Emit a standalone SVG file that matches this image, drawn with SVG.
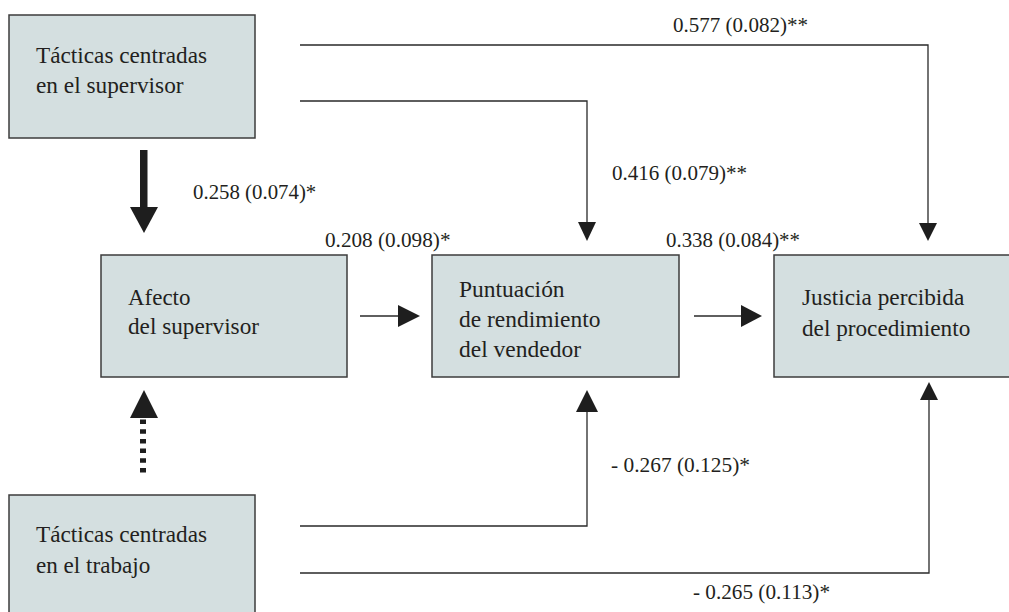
<svg xmlns="http://www.w3.org/2000/svg" width="1009" height="612" viewBox="0 0 1009 612">
<style>
.box{fill:#d4dfe0;stroke:#3c3c3c;stroke-width:1.5}
.nt{font-family:'Liberation Serif','Tinos','DejaVu Serif','Noto Serif',serif;font-size:23.3px;fill:#231f20}
.lb{font-family:'Liberation Serif','Tinos','DejaVu Serif','Noto Serif',serif;font-size:21px;fill:#231f20}
.ln{fill:none;stroke:#2a2a2a;stroke-width:1.3}
.hd{fill:#1e1e1e}
</style>
<rect width="1009" height="612" fill="#ffffff"/>
<g id="n1">
<rect class="box" x="9" y="15" width="246" height="123"/>
<text class="nt" x="36" y="63" textLength="171" lengthAdjust="spacingAndGlyphs">Tácticas centradas</text>
<text class="nt" x="36" y="93" textLength="147.6" lengthAdjust="spacingAndGlyphs">en el supervisor</text>
</g>
<g id="n2">
<rect class="box" x="101" y="255" width="246" height="122"/>
<text class="nt" x="128" y="305" textLength="62.4" lengthAdjust="spacingAndGlyphs">Afecto</text>
<text class="nt" x="128" y="334" textLength="131" lengthAdjust="spacingAndGlyphs">del supervisor</text>
</g>
<g id="n3">
<rect class="box" x="432" y="255" width="247" height="122"/>
<text class="nt" x="459" y="297" textLength="105.6" lengthAdjust="spacingAndGlyphs">Puntuación</text>
<text class="nt" x="459" y="327" textLength="141.4" lengthAdjust="spacingAndGlyphs">de rendimiento</text>
<text class="nt" x="459" y="357" textLength="122" lengthAdjust="spacingAndGlyphs">del vendedor</text>
</g>
<g id="n4">
<rect class="box" x="774" y="255" width="250" height="122"/>
<text class="nt" x="802" y="305" textLength="162.3" lengthAdjust="spacingAndGlyphs">Justicia percibida</text>
<text class="nt" x="802" y="336" textLength="168.3" lengthAdjust="spacingAndGlyphs">del procedimiento</text>
</g>
<g id="n5">
<rect class="box" x="9" y="495" width="246" height="130"/>
<text class="nt" x="36" y="542" textLength="171" lengthAdjust="spacingAndGlyphs">Tácticas centradas</text>
<text class="nt" x="36" y="573" textLength="114.3" lengthAdjust="spacingAndGlyphs">en el trabajo</text>
</g>
<g id="connectors">
<polyline class="ln" points="300,45 928,45 928,224"/>
<polygon class="hd" points="919,223 937,223 928,241"/>
<polyline class="ln" points="300,101 587,101 587,223"/>
<polygon class="hd" points="578,222 596,222 587,241"/>
<rect class="hd" x="140" y="150" width="7.5" height="58"/>
<polygon class="hd" points="130,207 158,207 144,233"/>
<polygon class="hd" points="130,418 158,418 144,390"/>
<line x1="143" y1="419.5" x2="143" y2="473" stroke="#1e1e1e" stroke-width="6" stroke-dasharray="4.5 5.2"/>
<line class="ln" x1="360" y1="316" x2="399" y2="316"/>
<polygon class="hd" points="398,305 398,327 420,316"/>
<line class="ln" x1="694" y1="316" x2="742" y2="316"/>
<polygon class="hd" points="741,305 741,327 762,316"/>
<polyline class="ln" points="300,526 587,526 587,410"/>
<polygon class="hd" points="576,412 598,412 587,390"/>
<polyline class="ln" points="300,573 929,573 929,399"/>
<polygon class="hd" points="920,400 938,400 929,382"/>
</g>
<g id="labels">
<text class="lb" x="673" y="32" textLength="135" lengthAdjust="spacingAndGlyphs">0.577 (0.082)**</text>
<text class="lb" x="612" y="180" textLength="135" lengthAdjust="spacingAndGlyphs">0.416 (0.079)**</text>
<text class="lb" x="193" y="199" textLength="123.3" lengthAdjust="spacingAndGlyphs">0.258 (0.074)*</text>
<text class="lb" x="325" y="247" textLength="125.5" lengthAdjust="spacingAndGlyphs">0.208 (0.098)*</text>
<text class="lb" x="666" y="247" textLength="134" lengthAdjust="spacingAndGlyphs">0.338 (0.084)**</text>
<text class="lb" x="611" y="472" textLength="139" lengthAdjust="spacingAndGlyphs">- 0.267 (0.125)*</text>
<text class="lb" x="693" y="599" textLength="137" lengthAdjust="spacingAndGlyphs">- 0.265 (0.113)*</text>
</g>
</svg>
